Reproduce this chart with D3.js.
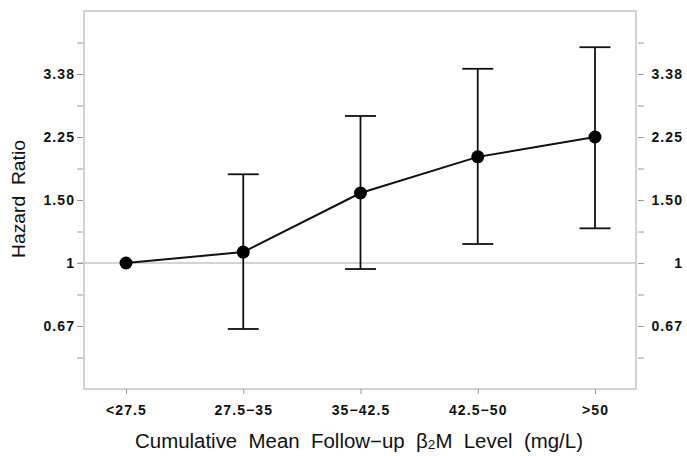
<!DOCTYPE html>
<html><head><meta charset="utf-8">
<script src="https://cdn.jsdelivr.net/npm/d3@7"></script>
<style>body{margin:0;background:#fff}svg{display:block}text{white-space:pre}</style>
</head><body>
<script>
const categories = ["<27.5", "27.5\u221235", "35\u221242.5", "42.5\u221250", ">50"];
const hr    = [1.00, 1.073, 1.569, 1.98, 2.25];
const lower = [null, 0.654, 0.962, 1.13, 1.25];
const upper = [null, 1.77, 2.576, 3.49, 4.01];
const majorTickLabels = ["0.67", "1", "1.50", "2.25", "3.38"];
const majorTickValues = [Math.pow(1.5,-1), 1, 1.5, 2.25, 3.375];
const minorTickValues = [-1.5,-0.5,0.5,1.5,2.5,3.5].map(e => Math.pow(1.5, e));

const W = 687, H = 456;
const svg = d3.select("body").append("svg").attr("width", W).attr("height", H);
const frame = {l: 84, r: 636, t: 11, b: 389};

const x = d3.scalePoint().domain(categories).range([126, 595]);
const y = d3.scaleLog().domain([Math.pow(1.5,-2), Math.pow(1.5,4)]).range([frame.b, frame.t]);

const grey = "#c4c4c4", tickGrey = "#9a9a9a";
const font = "Liberation Sans, Arial, Helvetica, sans-serif";

svg.append("rect").attr("x", frame.l).attr("y", frame.t)
  .attr("width", frame.r - frame.l).attr("height", frame.b - frame.t)
  .attr("fill", "none").attr("stroke", grey).attr("stroke-width", 1.5);

svg.append("line").attr("x1", 78).attr("x2", frame.r).attr("y1", y(1)).attr("y2", y(1))
  .attr("stroke", grey).attr("stroke-width", 1.5);

const fmt = d => { const i = majorTickValues.findIndex(v => Math.abs(v - d) < 1e-9); return i >= 0 ? majorTickLabels[i] : ""; };
const allY = majorTickValues.concat(minorTickValues);
const gl = svg.append("g").attr("transform", `translate(${frame.l - 1},0)`)
  .call(d3.axisLeft(y).tickValues(allY).tickSize(6).tickPadding(3).tickFormat(fmt));
const gr = svg.append("g").attr("transform", `translate(${frame.r + 2},0)`)
  .call(d3.axisRight(y).tickValues(allY).tickSize(6).tickPadding(10).tickFormat(fmt));
const gx = svg.append("g").attr("transform", `translate(0,${frame.b})`)
  .call(d3.axisBottom(x).tickSize(5).tickPadding(10));

[gl, gr, gx].forEach(g => {
  g.select(".domain").remove();
  g.selectAll(".tick line").attr("stroke", tickGrey).attr("stroke-width", 1);
  g.selectAll(".tick text").attr("fill", "#111").attr("font-family", font)
    .attr("font-size", 14).attr("font-weight", "bold").attr("letter-spacing", 1.1);
});
// right-hand labels are right-aligned near the page edge
gr.selectAll(".tick text").attr("text-anchor", "end").attr("x", 682 - (frame.r + 2) + 1.1);
gl.selectAll(".tick text").attr("dx", 1.1);
gx.selectAll(".tick text").attr("dy", "0.75em");

const idx = d3.range(categories.length).filter(i => lower[i] != null);
const cap = 15.5;
const eb = svg.append("g").attr("stroke", "#111").attr("stroke-width", 1.8).attr("fill", "none");
idx.forEach(i => {
  const cx = x(categories[i]);
  eb.append("line").attr("x1", cx).attr("x2", cx).attr("y1", y(lower[i])).attr("y2", y(upper[i]));
  eb.append("line").attr("x1", cx - cap).attr("x2", cx + cap).attr("y1", y(lower[i])).attr("y2", y(lower[i]));
  eb.append("line").attr("x1", cx - cap).attr("x2", cx + cap).attr("y1", y(upper[i])).attr("y2", y(upper[i]));
});

svg.append("path").datum(hr)
  .attr("d", d3.line().x((d, i) => x(categories[i])).y(d => y(d)))
  .attr("fill", "none").attr("stroke", "#111").attr("stroke-width", 2);

svg.selectAll("circle.pt").data(hr).join("circle")
  .attr("cx", (d, i) => x(categories[i])).attr("cy", d => y(d)).attr("r", 6.5).attr("fill", "#000");

function stretch(sel, base, target) {
  const w = sel.node().getComputedTextLength();
  sel.attr("transform", base + ` scale(${target / w},1)`);
}

const yt = svg.append("text").attr("text-anchor", "middle").attr("font-family", font)
  .attr("font-size", 19).attr("fill", "#111").text("Hazard  Ratio");
stretch(yt, "translate(25,199) rotate(-90)", 118);

const xt = svg.append("text").attr("text-anchor", "middle")
  .attr("font-family", font).attr("font-size", 19.5).attr("fill", "#111");
xt.append("tspan").text("Cumulative  Mean  Follow\u2212up  \u03B2");
xt.append("tspan").attr("font-size", 13).attr("dy", 1).text("2");
xt.append("tspan").attr("dy", -1).text("M  Level  (mg/L)");
stretch(xt, "translate(359,448)", 448);
</script>
</body></html>
